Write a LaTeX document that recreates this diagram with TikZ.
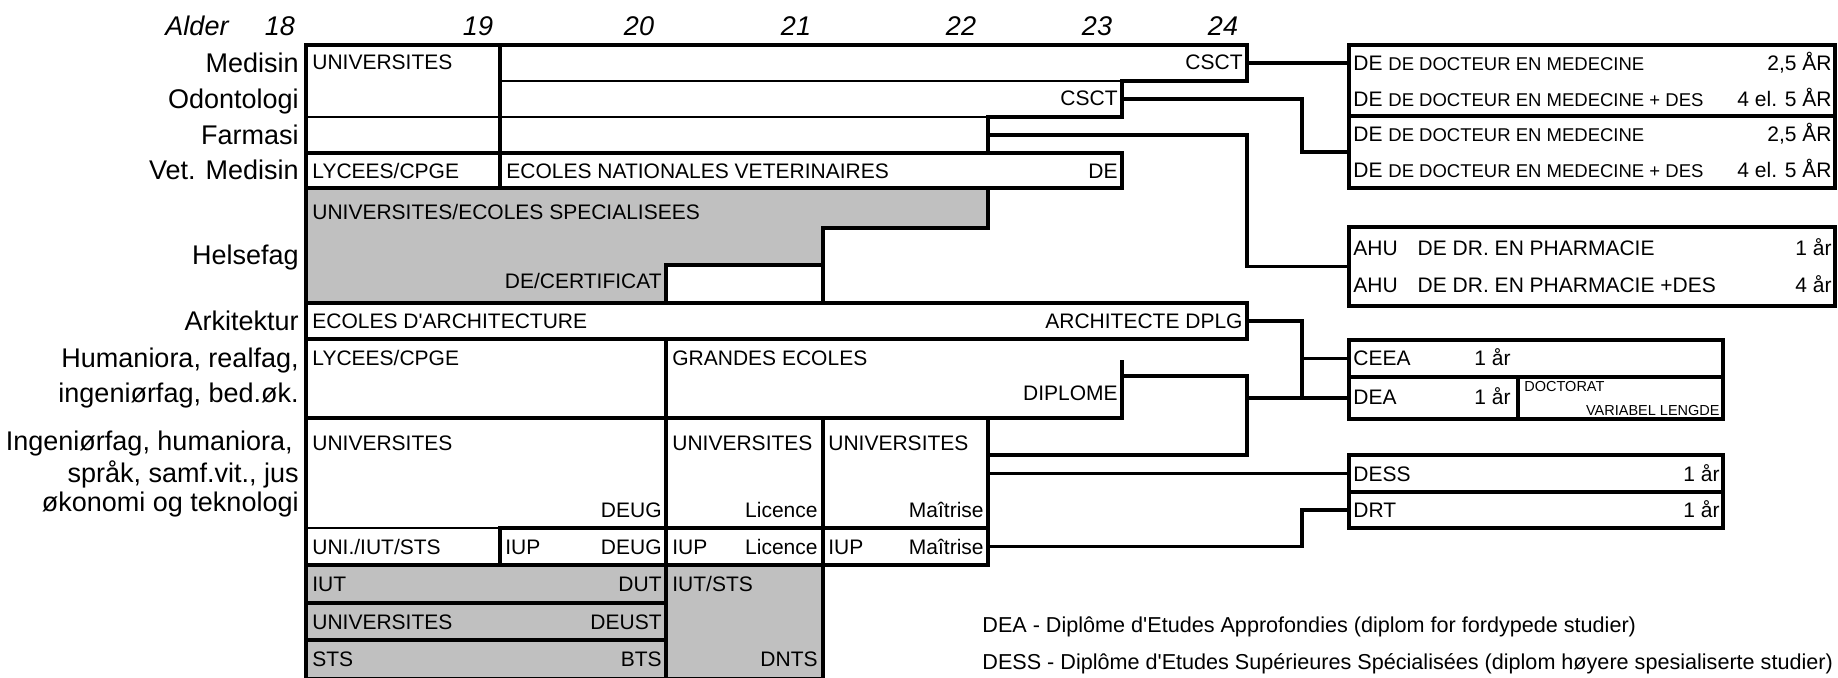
\documentclass[tikz,border=0pt]{standalone}
\usepackage{fontspec}
\setmainfont{Liberation Sans}
\usetikzlibrary{fit,calc}
\definecolor{cgray}{RGB}{192,192,192}
\begin{document}
\begin{tikzpicture}[x=0.5pt,y=-0.5pt,
  cell/.style={draw=black, line width=1.55pt, fill=white, inner sep=0pt, outer sep=0pt, rectangle},
  gcell/.style={cell, fill=cgray},
  conn/.style={draw=black, line width=1.55pt},
  thinline/.style={draw=black, line width=0.7pt},
  eraser/.style={draw=white, line width=2pt},
  txtl/.style={anchor=base west, inner sep=0pt, font=\fontsize{10.5}{12}\selectfont},
  txtr/.style={anchor=base east, inner sep=0pt, font=\fontsize{10.5}{12}\selectfont},
  lab/.style={anchor=base east, inner sep=0pt, font=\fontsize{13.5}{16}\selectfont},
  hdr/.style={anchor=base, inner sep=0pt, font=\fontsize{13.5}{16}\selectfont\itshape},
  tinytxt/.style={inner sep=0pt, font=\fontsize{7.25}{9}\selectfont},
  legtxt/.style={anchor=base west, inner sep=0pt, font=\fontsize{10.8}{12}\selectfont}
]
\useasboundingbox (0,0) rectangle (1838,677);
\newcommand\smtxt[1]{{\fontsize{9.25}{11}\selectfont #1}}

% ---------- header ----------
\node[hdr] (hAlder) at (197,35) {Alder};
\node[hdr] (h18) at (280,35) {18};
\node[hdr] (h19) at (478,35) {19};
\node[hdr] (h20) at (639,35) {20};
\node[hdr] (h21) at (796,35) {21};
\node[hdr] (h22) at (961,35) {22};
\node[hdr] (h23) at (1097,35) {23};
\node[hdr] (h24) at (1223,35) {24};

% ---------- row labels ----------
\node[lab] (lMed) at (299,72) {Medisin};
\node[lab] (lOdo) at (299,108) {Odontologi};
\node[lab] (lFar) at (299,144) {Farmasi};
\node[lab] (lVet) at (299,179.5) {Vet. Medisin};
\node[lab] (lHel) at (299,264) {Helsefag};
\node[lab] (lArk) at (299,330) {Arkitektur};
\node[lab] (lHum1) at (299,367) {Humaniora, realfag,};
\node[lab] (lHum2) at (299,402) {ingeniørfag, bed.øk.};
\node[lab] (lIng1) at (293,450) {Ingeniørfag, humaniora,};
\node[lab] (lIng2) at (299,482) {språk, samf.vit., jus};
\node[lab] (lIng3) at (299,511) {økonomi og teknologi};

% ---------- main cells ----------
\node[cell, fit={(306,45)(500,117)}] (uniMed) {};
\node[cell, fit={(500,45)(1247,81)}] (med) {};
\node[cell, fit={(500,81)(1122,117)}] (odo) {};
\node[cell, fit={(306,117)(500,153)}] (farL) {};
\node[cell, fit={(500,117)(988,153)}] (far) {};
\node[cell, fit={(306,153)(500,188)}] (vetL) {};
\node[cell, fit={(500,153)(1122,188)}] (vet) {};
\draw[line width=1.55pt, fill=cgray] (306,188) -- (988,188) -- (988,228) -- (823,228)
   -- (823,303) -- (306,303) -- cycle;
\node[cell, fit={(666,265)(823,303)}] (cert) {};
\node[cell, fit={(306,303)(1247,339)}] (ark) {};
\node[cell, fit={(306,339)(666,418)}] (humL) {};
\draw[line width=1.55pt] (666,339) -- (666,418) -- (1122,418) -- (1122,360);
\coordinate (dipl) at (1122,376);
\node[cell, fit={(306,418)(666,528)}] (ingL) {};
\node[cell, fit={(666,418)(823,528)}] (lic) {};
\node[cell, fit={(823,418)(988,528)}] (mai) {};
\node[cell, fit={(306,528)(500,565)}] (iupA) {};
\node[cell, fit={(500,528)(666,565)}] (iupB) {};
\node[cell, fit={(666,528)(823,565)}] (iupC) {};
\node[cell, fit={(823,528)(988,565)}] (iupD) {};
\node[gcell, fit={(306,565)(666,603)}] (iut) {};
\node[gcell, fit={(306,603)(666,640)}] (deust) {};
\node[gcell, fit={(306,640)(666,679)}] (sts) {};
\node[gcell, fit={(666,565)(823,679)}] (iutsts) {};

% thin inner lines
\draw[eraser] (502,81) -- (1120,81);
\draw[thinline] (500,81) -- (1122,81);
\draw[eraser] (308,117) -- (498,117) (502,117) -- (986,117);
\draw[thinline] (306,117) -- (988,117);
\draw[eraser] (308,528) -- (498,528);
\draw[thinline] (306,528) -- (500,528);

% ---------- right-hand boxes ----------
\node[cell, fit={(1349,45)(1835,116)}] (deA) {};
\node[cell, fit={(1349,116)(1835,188)}] (deB) {};
\node[cell, fit={(1349,227)(1835,306)}] (ahu) {};
\node[cell, fit={(1349,340)(1723,377)}] (ceea) {};
\node[cell, fit={(1349,377)(1518,419)}] (dea) {};
\node[cell, fit={(1518,377)(1723,419)}] (doct) {};
\node[cell, fit={(1349,455)(1723,492)}] (dess) {};
\node[cell, fit={(1349,492)(1723,528)}] (drt) {};

% ---------- connectors ----------
\coordinate (jx) at (1302,0);
\draw[conn] (med.east) -- (med.east -| deA.west);
\draw[conn] (odo.east) -| (jx |- deB.west) -- (deB.west);
\draw[conn] (far.east) -| (ark.east |- ahu.west) -- (ahu.west);
\draw[conn] (ark.east) -| (jx |- dea.west);
\draw[conn] (jx |- ceea.west) -- (ceea.west);
\draw[conn] (dipl) -| (ark.east |- dess.north) -- (mai.east |- dess.north);
\draw[conn] (ark.east |- dea.west) -- (dea.west);
\draw[conn] (mai.east |- dess.west) -- (dess.west);
\draw[conn] (iupD.east) -| (jx |- drt.west) -- (drt.west);

% ---------- cell texts ----------
\node[txtl] (tUniMed) at (312,69.5) {UNIVERSITES};
\node[txtr] (tCsct1) at (1243,69.5) {CSCT};
\node[txtr] (tCsct2) at (1118,105.5) {CSCT};
\node[txtl] (tLyc1) at (312,178) {LYCEES/CPGE};
\node[txtl] (tEnv) at (506,178) {ECOLES NATIONALES VETERINAIRES};
\node[txtr] (tDeVet) at (1118,178) {DE};
\node[txtl] (tHel) at (312,219.5) {UNIVERSITES/ECOLES SPECIALISEES};
\node[txtr] (tCert) at (662,288.5) {DE/CERTIFICAT};
\node[txtl] (tArk) at (312,328.5) {ECOLES D\textquotesingle ARCHITECTURE};
\node[txtr] (tDplg) at (1243,328.5) {ARCHITECTE DPLG};
\node[txtl] (tLyc2) at (312,365.5) {LYCEES/CPGE};
\node[txtl] (tGrand) at (672,365.5) {GRANDES ECOLES};
\node[txtr] (tDipl) at (1118,400.5) {DIPLOME};
\node[txtl] (tUni1) at (312,450.5) {UNIVERSITES};
\node[txtl] (tUni2) at (672,450.5) {UNIVERSITES};
\node[txtl] (tUni3) at (828,450.5) {UNIVERSITES};
\node[txtr] (tDeug1) at (662,517.5) {DEUG};
\node[txtr] (tLic1) at (818,517.5) {Licence};
\node[txtr] (tMai1) at (984,517.5) {Maîtrise};
\node[txtl] (tUis) at (312,554) {UNI./IUT/STS};
\node[txtl] (tIup1) at (505,554) {IUP};
\node[txtr] (tDeug2) at (662,554) {DEUG};
\node[txtl] (tIup2) at (672,554) {IUP};
\node[txtr] (tLic2) at (818,554) {Licence};
\node[txtl] (tIup3) at (828,554) {IUP};
\node[txtr] (tMai2) at (984,554) {Maîtrise};
\node[txtl] (tIut) at (312,591.5) {IUT};
\node[txtr] (tDut) at (662,591.5) {DUT};
\node[txtl] (tUni4) at (312,629) {UNIVERSITES};
\node[txtr] (tDeust) at (662,629) {DEUST};
\node[txtl] (tSts) at (312,666) {STS};
\node[txtr] (tBts) at (662,666) {BTS};
\node[txtl] (tIutsts) at (672,591.5) {IUT/STS};
\node[txtr] (tDnts) at (818,666) {DNTS};

% ---------- right box texts ----------
\node[txtl] (rA1) at (1353,70.5) {DE \smtxt{DE DOCTEUR EN MEDECINE}};
\node[txtr] (rA1r) at (1832,70.5) {2,5 ÅR};
\node[txtl] (rA2) at (1353,106.5) {DE \smtxt{DE DOCTEUR EN MEDECINE + DES}};
\node[txtr] (rA2r) at (1832,106.5) {4 el. 5 ÅR};
\node[txtl] (rB1) at (1353,141.5) {DE \smtxt{DE DOCTEUR EN MEDECINE}};
\node[txtr] (rB1r) at (1832,141.5) {2,5 ÅR};
\node[txtl] (rB2) at (1353,177.5) {DE \smtxt{DE DOCTEUR EN MEDECINE + DES}};
\node[txtr] (rB2r) at (1832,177.5) {4 el. 5 ÅR};
\node[txtl] (rC1) at (1353,255.5) {AHU\hspace{10pt}DE DR. EN PHARMACIE};
\node[txtr] (rC1r) at (1832,255.5) {1 år};
\node[txtl] (rC2) at (1353,292.5) {AHU\hspace{10pt}DE DR. EN PHARMACIE +DES};
\node[txtr] (rC2r) at (1832,292.5) {4 år};
\node[txtl] (rCeea) at (1353,365.5) {CEEA};
\node[txtl] (rCeeaY) at (1474,365.5) {1 år};
\node[txtl] (rDea) at (1353,404.5) {DEA};
\node[txtl] (rDeaY) at (1474,404.5) {1 år};
\node[tinytxt, anchor=base west] (rDoc) at (1524,391) {DOCTORAT};
\node[tinytxt, anchor=base east] (rVar) at (1720,415) {VARIABEL LENGDE};
\node[txtl] (rDess) at (1353,481) {DESS};
\node[txtr] (rDessY) at (1720,481) {1 år};
\node[txtl] (rDrt) at (1353,517.5) {DRT};
\node[txtr] (rDrtY) at (1720,517.5) {1 år};

% ---------- legend ----------
\node[legtxt] (leg1) at (982,632.5) {DEA - Diplôme d\textquotesingle Etudes Approfondies (diplom for fordypede studier)};
\node[legtxt] (leg2) at (982,669.5) {DESS - Diplôme d\textquotesingle Etudes Supérieures Spécialisées (diplom høyere spesialiserte studier)};
\end{tikzpicture}
\end{document}
